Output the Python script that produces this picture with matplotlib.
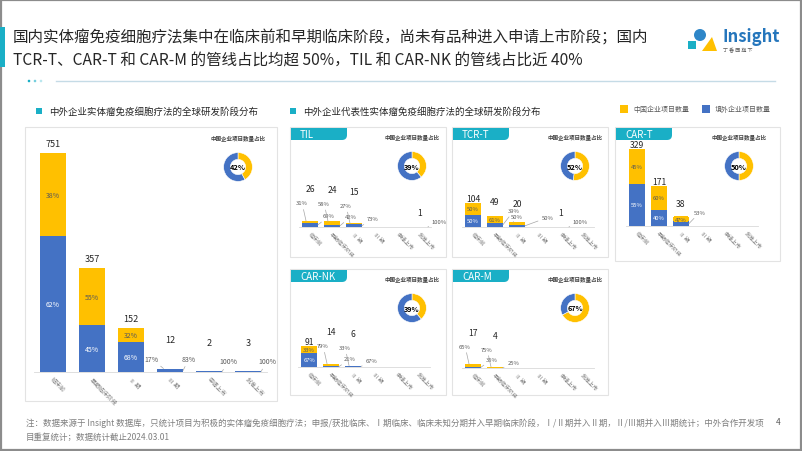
import numpy as np
import matplotlib
matplotlib.use('Agg')
import matplotlib.pyplot as plt
from matplotlib.patches import Rectangle, FancyBboxPatch, Circle, Polygon

plt.rcParams['font.family'] = ['Noto Sans CJK SC', 'DejaVu Sans']

W, H = 802, 452
YELLOW = '#FFC000'
BLUE = '#4472C4'
TEAL = '#1AAFC6'
DARK = '#262626'
GREY = '#595959'

# ---- data ----
stages = ['临床前', '早期临床阶段', 'Ⅱ 期', 'Ⅲ 期', '申请上市', '批准上市']

main_total = [751, 357, 152, 12, 2, 3]
main_cn_pct = [38, 55, 32, 17, 0, 0]
main_donut = 42

panel_names = ['TIL', 'TCR-T', 'CAR-T', 'CAR-NK', 'CAR-M']
til_total = [26, 24, 15, 0, 0, 1]
til_cn_pct = [31, 58, 27, 0, 0, 0]
tcr_total = [104, 49, 20, 0, 1, 0]
tcr_cn_pct = [50, 61, 50, 0, 0, 0]
cart_total = [329, 171, 38, 0, 0, 0]
cart_cn_pct = [45, 60, 47, 0, 0, 0]
nk_total = [91, 14, 6, 0, 0, 0]
nk_cn_pct = [33, 79, 33, 0, 0, 0]
carm_total = [17, 4, 0, 0, 0, 0]
carm_cn_pct = [65, 75, 0, 0, 0, 0]
panel_donut = [39, 52, 50, 39, 67]

legend_labels = ['中国企业项目数量', '境外企业项目数量']

title1 = '国内实体瘤免疫细胞疗法集中在临床前和早期临床阶段，尚未有品种进入申请上市阶段；国内'
title2 = 'TCR-T、CAR-T 和 CAR-M 的管线占比均超 50%，TIL 和 CAR-NK 的管线占比近 40%'
left_header = '中外企业实体瘤免疫细胞疗法的全球研发阶段分布'
right_header = '中外企业代表性实体瘤免疫细胞疗法的全球研发阶段分布'
donut_title = '中国企业项目数量占比'
note1 = ('注：数据来源于 Insight 数据库，只统计项目为积极的实体瘤免疫细胞疗法；申报/获批临床、Ⅰ期临床、'
         '临床未知分期并入早期临床阶段，Ⅰ/Ⅱ期并入Ⅱ期，Ⅱ/Ⅲ期并入Ⅲ期统计；中外合作开发项')
note2 = '目重复统计；数据统计截止2024.03.01'

LEADER = dict(arrowstyle='-', color='#a6a6a6', lw=0.5, shrinkA=1, shrinkB=0)


def px(x0, y0, w, h):
    return [x0 / W, (H - y0 - h) / H, w / W, h / H]


def draw_stack(ax, totals, cn_pct, ppu, step, small):
    totals = np.asarray(totals, float)
    cn = totals * np.asarray(cn_pct) / 100
    fo = totals - cn
    x = np.arange(len(totals))
    w = 0.72 if small else 0.67
    ax.bar(x, fo, w, color=BLUE)
    ax.bar(x, cn, w, bottom=fo, color=YELLOW)
    fs_pct = 4.2 if small else 5
    fs_tot = 6.2 if small else 6.5
    thr_cn = 4 if small else 9
    thr_fo = 6.5 if small else 9
    half = w * step / 2
    prev_fo_out = False
    prev_cn_out = False
    for i in range(len(x)):
        if totals[i] == 0:
            prev_fo_out = prev_cn_out = False
            continue
        pc = cn_pct[i]
        pf = 100 - pc
        top = totals[i]
        cn_out = pc > 0 and cn[i] * ppu < thr_cn
        fo_out = pf > 0 and fo[i] * ppu < thr_fo
        # slide labels to the right when the left neighbour's label sits there
        shifted = small and prev_fo_out and not prev_cn_out and cn_out
        if not small:
            cn_off, fo_off = (-12, 10), (13, 10)
        elif shifted:
            cn_off, fo_off = (4, 6), (25, 5)
        else:
            cn_off, fo_off = (-4, 18), (13, 5)
        if pc > 0:
            if cn_out:
                ax.annotate(f'{pc}%', xy=(x[i] - w / 4, top), xytext=cn_off,
                            textcoords='offset pixels', ha='center', va='center',
                            fontsize=fs_pct, color=GREY, arrowprops=LEADER)
            else:
                ax.text(x[i], fo[i] + cn[i] / 2, f'{pc}%', ha='center', va='center',
                        fontsize=fs_pct, color=GREY,
                        bbox=dict(fc=YELLOW, ec='none', pad=0.5))
        if pf > 0:
            if fo_out:
                dx = fo_off[0] - half
                dy = fo_off[1] + (top - fo[i] / 2) * ppu
                ax.annotate(f'{pf}%', xy=(x[i] + w / 2, fo[i] / 2), xytext=(dx + 6, dy),
                            textcoords='offset pixels', ha='center', va='center',
                            fontsize=fs_pct, color=GREY, arrowprops=LEADER)
            else:
                ax.text(x[i], fo[i] / 2, f'{pf}%', ha='center', va='center',
                        fontsize=fs_pct, color='white',
                        bbox=dict(fc=BLUE, ec='none', pad=0.5))
        if small:
            if shifted:
                off, va = 19, 'center'
            elif cn_out:
                off, va = 32, 'center'
            elif fo_out:
                off, va = 14, 'center'
            else:
                off, va = 0, 'bottom'
        else:
            if cn_out or fo_out:
                off, va = 29, 'center'
            else:
                off, va = 5, 'bottom'
        ax.annotate(f'{int(top)}', xy=(x[i], top), xytext=(0, off),
                    textcoords='offset pixels', ha='center', va=va,
                    fontsize=fs_tot, color=DARK)
        prev_fo_out, prev_cn_out = fo_out, cn_out
    ax.set_xlim(-0.5, len(x) - 0.5)
    ax.set_xticks(x)
    ax.set_xticklabels(stages, rotation=-45, ha='left', va='top',
                       rotation_mode='anchor', fontsize=4 if small else 4.3,
                       color='#7f7f7f')
    ax.tick_params(axis='x', length=0, pad=3)
    ax.set_yticks([])
    for s in ['top', 'right', 'left']:
        ax.spines[s].set_visible(False)
    ax.spines['bottom'].set_color('#d9d9d9')
    ax.spines['bottom'].set_linewidth(0.6)
    ax.patch.set_alpha(0)


def draw_donut(cx, cy, pct, r=18):
    ax = fig.add_axes(px(cx - r, cy - r, 2 * r, 2 * r))
    ax.pie([pct, 100 - pct], colors=[YELLOW, BLUE], startangle=90,
           counterclock=False, wedgeprops=dict(width=0.47, edgecolor='white', linewidth=0.4))
    ax.text(0, 0, f'{pct}%', ha='center', va='center', fontsize=5.3,
            fontweight='bold', color='black')
    ax.set_aspect('equal')
    bg.text(cx, cy - 30, donut_title, ha='center', va='center', fontsize=4,
            color='#404040', fontweight='bold')


fig = plt.figure(figsize=(W / 100, H / 100), dpi=100)
bg = fig.add_axes([0, 0, 1, 1])
bg.set_xlim(0, W)
bg.set_ylim(H, 0)
bg.axis('off')

# frame, title, logo
bg.add_patch(Rectangle((0.8, 0.8), W - 1.6, H - 1.6, fill=False, ec='#8c8c8c', lw=1.6))
bg.add_patch(Rectangle((0, 28), 5, 40, color=TEAL, lw=0))
bg.text(13, 38, title1, fontsize=11.2, va='center', color=DARK)
bg.text(13, 60, title2, fontsize=11.2, va='center', color=DARK)
bg.add_patch(Circle((700, 36), 6, color='#2E86C8', lw=0))
bg.add_patch(Polygon([[702, 52], [712, 38], [717, 52]], closed=True, color=YELLOW, lw=0))
bg.add_patch(Rectangle((688, 42), 8, 8, color='#1AAFC6', lw=0))
bg.text(722, 37, 'Insight', fontsize=12, fontweight='bold', va='center', color='#2576BC')
bg.text(723, 51, '丁 香 园 旗 下', fontsize=3.6, va='center', color='#595959')
for k, a in enumerate([1.0, 0.6, 0.3]):
    bg.add_patch(Circle((29 + k * 6, 82), 1.3, color=TEAL, alpha=a, lw=0))
bg.plot([56, 775], [82, 82], color='#c5dbe6', lw=1)

# section headers and legend
bg.add_patch(Rectangle((36, 109), 6, 6, color=TEAL, lw=0))
bg.text(49, 112, left_header, fontsize=6.8, va='center', color=DARK)
bg.add_patch(Rectangle((290, 109), 6, 6, color=TEAL, lw=0))
bg.text(303, 112, right_header, fontsize=6.8, va='center', color=DARK)
for k, (lab, col) in enumerate(zip(legend_labels, [YELLOW, BLUE])):
    x0 = 620 + k * 82
    bg.add_patch(Rectangle((x0, 106), 8, 8, color=col, lw=0))
    bg.text(x0 + 13, 110, lab, fontsize=5, va='center', color=GREY)

# panel boxes
bg.add_patch(Rectangle((25, 128), 252, 274, fill=False, ec='#e3e3e3', lw=0.8))
boxes = [(290, 128, 156, 130), (452, 128, 156, 130), (615, 128, 165, 134),
         (290, 270, 156, 126), (452, 270, 156, 126)]
for (x0, y0, bw, bh), name in zip(boxes, panel_names):
    bg.add_patch(Rectangle((x0, y0), bw, bh, fill=False, ec='#e3e3e3', lw=0.8))
    bg.add_patch(FancyBboxPatch((x0 + 1, y0 + 1), 56, 12,
                                boxstyle='round,pad=0,rounding_size=5', color=TEAL, lw=0))
    bg.add_patch(Rectangle((x0 + 1, y0 + 1), 20, 12, color=TEAL, lw=0))
    bg.add_patch(Rectangle((x0 + 1, y0 + 1), 56, 6, color=TEAL, lw=0))
    bg.text(x0 + 10, y0 + 7.5, name, fontsize=7, color='white', va='center')

# main chart
ppu_main = 0.2916
ax = fig.add_axes(px(33.5, 373 - 250, 234, 250))
ax.set_ylim(0, 250 / ppu_main)
draw_stack(ax, main_total, main_cn_pct, ppu_main, 39, small=False)
draw_donut(238, 168, main_donut)

# small panels
ppu = 0.234
panel_data = [(til_total, til_cn_pct), (tcr_total, tcr_cn_pct), (cart_total, cart_cn_pct),
              (nk_total, nk_cn_pct), (carm_total, carm_cn_pct)]
panel_axes = [(299, 228), (462, 228), (626, 227), (298, 368), (462, 369)]
donut_pos = [(412, 167), (575, 167), (739, 167), (412, 309), (575, 309)]
for (tot, cnp), (left, base), (dx, dy), pct in zip(panel_data, panel_axes, donut_pos, panel_donut):
    a = fig.add_axes(px(left, base - 100, 132, 100))
    a.set_ylim(0, 100 / ppu)
    draw_stack(a, tot, cnp, ppu, 22, small=True)
    draw_donut(dx, dy, pct)

# footnote
bg.text(26, 423, note1, fontsize=6.1, va='center', color='#7f7f7f')
bg.text(26, 437, note2, fontsize=6.1, va='center', color='#7f7f7f')
bg.text(776, 423, '4', fontsize=6, va='center', color='#595959')

fig.savefig('out.png', dpi=100)
